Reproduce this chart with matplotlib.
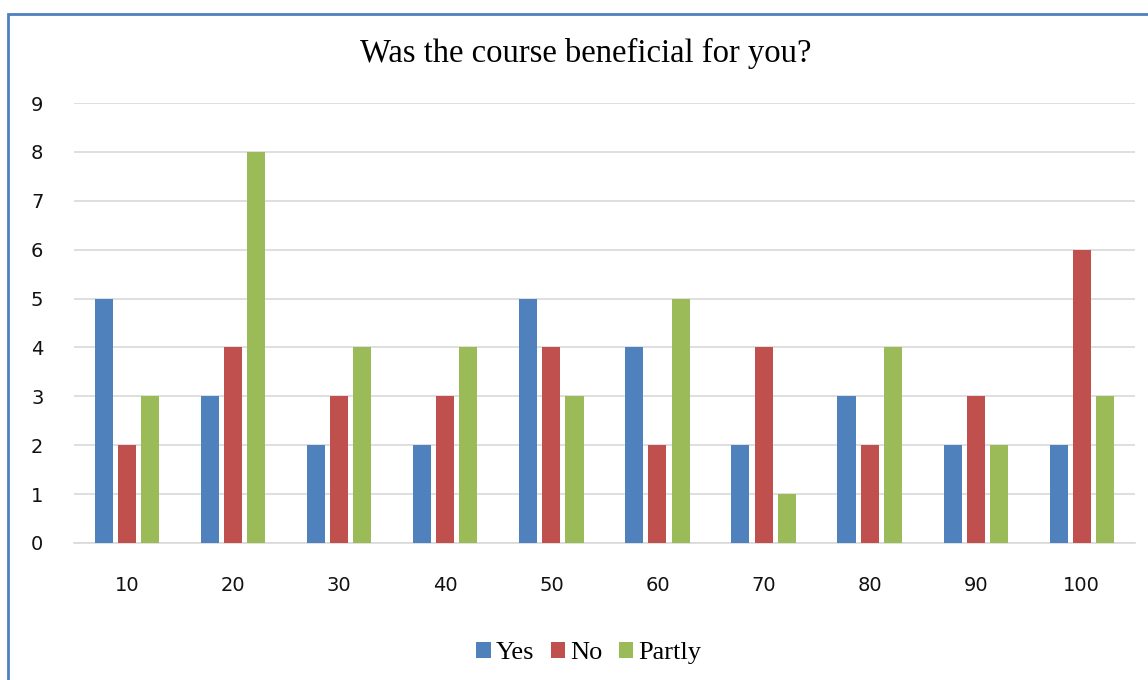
"""Grouped bar chart of course feedback answers."""

import matplotlib

matplotlib.use("Agg")

import matplotlib.pyplot as plt
import numpy as np
from matplotlib.patches import Rectangle

categories = ["10", "20", "30", "40", "50", "60", "70", "80", "90", "100"]
yes_counts = [5, 3, 2, 2, 5, 4, 2, 3, 2, 2]
no_counts = [2, 4, 3, 3, 4, 2, 4, 2, 3, 6]
partly_counts = [3, 8, 4, 4, 3, 5, 1, 4, 2, 3]

series = [
    ("Yes", yes_counts, "#4F81BD"),
    ("No", no_counts, "#C0504D"),
    ("Partly", partly_counts, "#9BBB59"),
]

fig = plt.figure(figsize=(11.48, 6.80), dpi=100)
ax = fig.add_axes([0.0645, 0.2015, 0.924, 0.647])

x = np.arange(len(categories))
width = 0.17
step = 0.218
for i, (label, values, color) in enumerate(series):
    ax.bar(x + (i - 1) * step, values, width=width, color=color, label=label, zorder=3)

ax.set_xlim(-0.5, len(categories) - 0.5)
ax.set_ylim(0, 9)
ax.set_yticks(range(0, 10))
ax.set_xticks(x)
ax.set_xticklabels(categories)
ax.grid(axis="y", color="#d9d9d9", linewidth=1.2, zorder=0)
for side in ("top", "right", "left"):
    ax.spines[side].set_visible(False)
ax.spines["bottom"].set_color("#d9d9d9")
ax.spines["bottom"].set_linewidth(1.2)
ax.tick_params(axis="both", length=0, labelsize=14, colors="#111111")
ax.tick_params(axis="x", pad=24)
ax.tick_params(axis="y", pad=22)

fig.text(0.51, 0.922, "Was the course beneficial for you?", ha="center", va="center",
         fontsize=23.5, family="Liberation Serif")

handles, labels = ax.get_legend_handles_labels()
fig.legend(handles, labels, loc="center", bbox_to_anchor=(0.513, 0.04), ncol=3,
           frameon=False, prop={"family": "Liberation Serif", "size": 19},
           handlelength=0.55, handleheight=0.55, handletextpad=0.2, columnspacing=0.6)

# chart frame, open towards the right and bottom edges
fig.patches.append(Rectangle((8 / 1148, -0.1), 1.2, (680 - 14) / 680 + 0.1,
                             transform=fig.transFigure, fill=False,
                             edgecolor="#4F81BD", linewidth=2))

fig.savefig("out.png", dpi=100)
